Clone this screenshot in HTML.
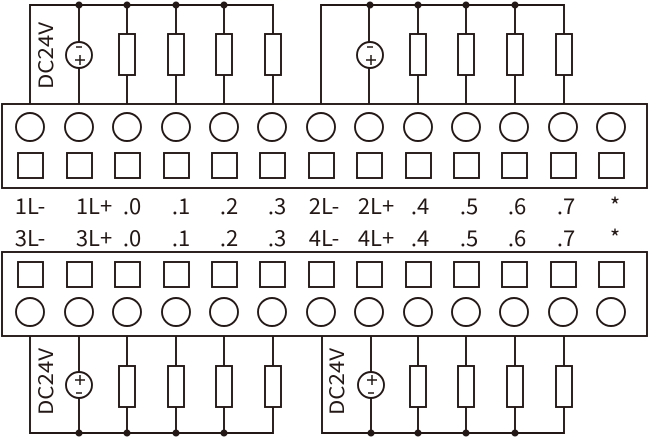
<!DOCTYPE html>
<html><head><style>html,body{margin:0;padding:0;background:#fff}svg{display:block}</style></head>
<body>
<svg width="650" height="440" viewBox="0 0 650 440" xmlns="http://www.w3.org/2000/svg" font-family="'Noto Sans CJK SC','Liberation Sans',sans-serif" fill="none" stroke="#231815" stroke-width="1.9">
<rect x="2" y="104" width="645" height="84"/>
<rect x="2" y="252" width="645" height="84"/>
<g>
<circle cx="30" cy="127" r="14"/><circle cx="79" cy="127" r="14"/><circle cx="127" cy="127" r="14"/><circle cx="176" cy="127" r="14"/><circle cx="224" cy="127" r="14"/><circle cx="272" cy="127" r="14"/><circle cx="321" cy="127" r="14"/><circle cx="369" cy="127" r="14"/><circle cx="418" cy="127" r="14"/><circle cx="466" cy="127" r="14"/><circle cx="514" cy="127" r="14"/><circle cx="563" cy="127" r="14"/><circle cx="611" cy="127" r="14"/>
<rect x="18" y="153" width="25" height="25"/><rect x="67" y="153" width="25" height="25"/><rect x="115" y="153" width="25" height="25"/><rect x="164" y="153" width="25" height="25"/><rect x="212" y="153" width="25" height="25"/><rect x="260" y="153" width="25" height="25"/><rect x="309" y="153" width="25" height="25"/><rect x="357" y="153" width="25" height="25"/><rect x="406" y="153" width="25" height="25"/><rect x="454" y="153" width="25" height="25"/><rect x="502" y="153" width="25" height="25"/><rect x="551" y="153" width="25" height="25"/><rect x="599" y="153" width="25" height="25"/>
</g>
<g>
<circle cx="30" cy="312" r="14"/><circle cx="79" cy="312" r="14"/><circle cx="127" cy="312" r="14"/><circle cx="176" cy="312" r="14"/><circle cx="224" cy="312" r="14"/><circle cx="272" cy="312" r="14"/><circle cx="321" cy="312" r="14"/><circle cx="369" cy="312" r="14"/><circle cx="418" cy="312" r="14"/><circle cx="466" cy="312" r="14"/><circle cx="514" cy="312" r="14"/><circle cx="563" cy="312" r="14"/><circle cx="611" cy="312" r="14"/>
<rect x="18" y="262" width="25" height="25"/><rect x="67" y="262" width="25" height="25"/><rect x="115" y="262" width="25" height="25"/><rect x="164" y="262" width="25" height="25"/><rect x="212" y="262" width="25" height="25"/><rect x="260" y="262" width="25" height="25"/><rect x="309" y="262" width="25" height="25"/><rect x="357" y="262" width="25" height="25"/><rect x="406" y="262" width="25" height="25"/><rect x="454" y="262" width="25" height="25"/><rect x="502" y="262" width="25" height="25"/><rect x="551" y="262" width="25" height="25"/><rect x="599" y="262" width="25" height="25"/>
</g>
<path d="M30 104V5H273V104M79 5V104M127 5V104M176 5V104M224 5V104"/>
<path d="M321 104V5H564V104M369 5V104M418 5V104M466 5V104M515 5V104"/>
<path d="M30 336V433H273V336M79 336V433M127 336V433M176 336V433M224 336V433"/>
<path d="M322 336V433H564V336M371 336V433M418 336V433M466 336V433M515 336V433"/>
<g fill="#fff">
<rect x="119" y="34" width="16" height="41"/><rect x="168" y="34" width="16" height="41"/><rect x="216" y="34" width="16" height="41"/><rect x="265" y="34" width="16" height="41"/>
<rect x="410" y="34" width="16" height="41"/><rect x="458" y="34" width="16" height="41"/><rect x="507" y="34" width="16" height="41"/><rect x="556" y="34" width="16" height="41"/>
<rect x="119" y="366" width="16" height="41"/><rect x="168" y="366" width="16" height="41"/><rect x="216" y="366" width="16" height="41"/><rect x="265" y="366" width="16" height="41"/>
<rect x="410" y="366" width="16" height="41"/><rect x="458" y="366" width="16" height="41"/><rect x="507" y="366" width="16" height="41"/><rect x="556" y="366" width="16" height="41"/>
<circle cx="79" cy="55" r="13"/><circle cx="370" cy="55" r="13"/><circle cx="79" cy="385" r="13"/><circle cx="371" cy="385" r="13"/>
</g>
<g stroke-width="1.5">
<path d="M76 47H82M75 60H85M80 55V65"/>
<path d="M367 47H373M366 60H376M371 55V65"/>
<path d="M75 380H85M80 375V385M76 393H82"/>
<path d="M367 380H377M372 375V385M368 393H374"/>
</g>
<g fill="#231815" stroke="none" font-size="20">
<text transform="translate(53,89) rotate(-90)" textLength="67" lengthAdjust="spacingAndGlyphs">DC24V</text>
<text transform="translate(53,415) rotate(-90)" textLength="67" lengthAdjust="spacingAndGlyphs">DC24V</text>
<text transform="translate(344,415) rotate(-90)" textLength="67" lengthAdjust="spacingAndGlyphs">DC24V</text>
</g>
<g fill="#231815" stroke="none" font-size="22" text-anchor="middle">
<text x="30" y="214">1L-</text><text x="94" y="214">1L+</text><text x="132" y="214">.0</text><text x="181" y="214">.1</text><text x="229" y="214">.2</text><text x="277" y="214">.3</text><text x="324" y="214">2L-</text><text x="376" y="214">2L+</text><text x="420" y="214">.4</text><text x="469" y="214">.5</text><text x="517" y="214">.6</text><text x="566" y="214">.7</text><text x="615" y="214">*</text>
<text x="30" y="246">3L-</text><text x="94" y="246">3L+</text><text x="132" y="246">.0</text><text x="181" y="246">.1</text><text x="229" y="246">.2</text><text x="277" y="246">.3</text><text x="324" y="246">4L-</text><text x="376" y="246">4L+</text><text x="420" y="246">.4</text><text x="469" y="246">.5</text><text x="517" y="246">.6</text><text x="566" y="246">.7</text><text x="615" y="246">*</text>
</g>
<g fill="#231815" stroke="none">
<circle cx="79" cy="5" r="3.5"/><circle cx="127" cy="5" r="3.5"/><circle cx="176" cy="5" r="3.5"/><circle cx="224" cy="5" r="3.5"/>
<circle cx="370" cy="5" r="3.5"/><circle cx="418" cy="5" r="3.5"/><circle cx="466" cy="5" r="3.5"/><circle cx="515" cy="5" r="3.5"/>
<circle cx="79" cy="433" r="3.5"/><circle cx="127" cy="433" r="3.5"/><circle cx="176" cy="433" r="3.5"/><circle cx="224" cy="433" r="3.5"/>
<circle cx="371" cy="433" r="3.5"/><circle cx="418" cy="433" r="3.5"/><circle cx="466" cy="433" r="3.5"/><circle cx="515" cy="433" r="3.5"/>
</g>
</svg>
</body></html>
